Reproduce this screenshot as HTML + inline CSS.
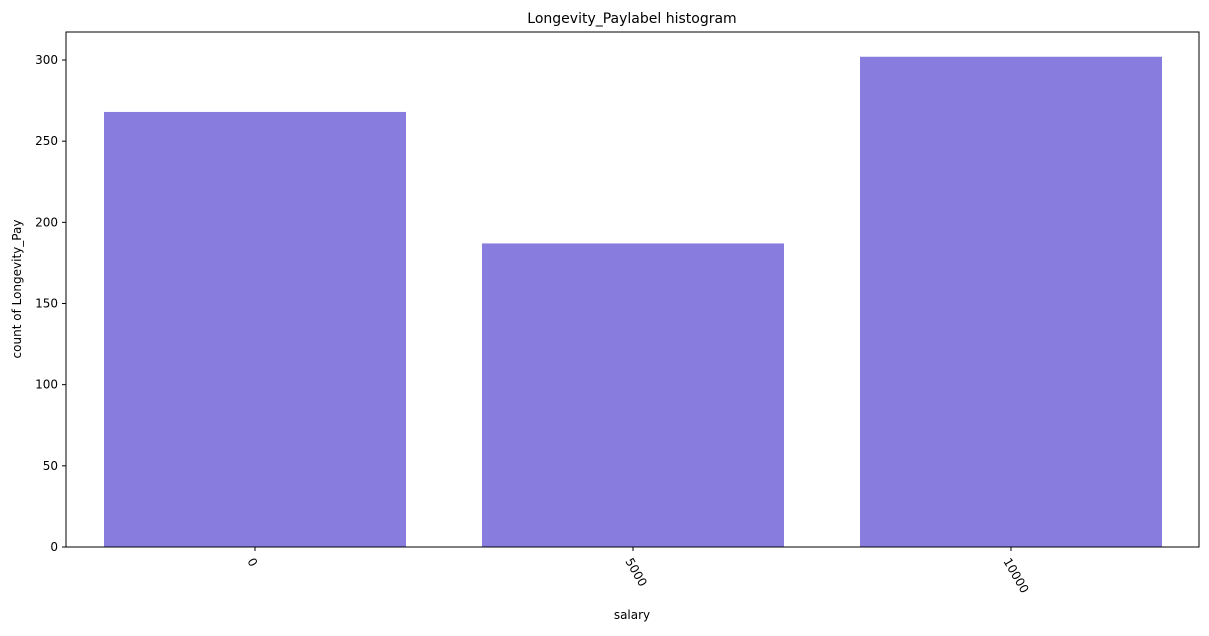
<!DOCTYPE html>
<html><head><meta charset="utf-8"><style>
body{margin:0;background:#fff;font-family:"Liberation Sans","DejaVu Sans",sans-serif;}
svg text{font-family:"DejaVu Sans","Liberation Sans",sans-serif;}
</style></head><body>
<svg id="chart" width="1209" height="631" xmlns="http://www.w3.org/2000/svg">
<rect width="1209" height="631" fill="#fff"/>
<text x="632" y="23" font-size="14" text-anchor="middle">Longevity_Paylabel histogram</text>
<g id="bars"></g>
<g id="yaxis"></g>
<g id="xaxis"></g>
<rect x="66" y="32" width="1133" height="515" fill="none" stroke="#000" stroke-width="1"/>
<text x="632" y="619" font-size="12" text-anchor="middle">salary</text>
<text transform="translate(21,289) rotate(-90)" font-size="12" text-anchor="middle">count of Longevity_Pay</text>
</svg>
<script>
const categories = ["0", "5000", "10000"];
const counts = [268, 187, 302];
const yTicks = [0, 50, 100, 150, 200, 250, 300];

const NS = "http://www.w3.org/2000/svg";
const x0 = 66, x1 = 1199, yTop = 32, yBot = 547;
const yScale = v => yBot - v * (487 / 300);
const step = 378, bw = 302, firstCenter = 255;
const xCenter = i => firstCenter + i * step;

const bars = document.getElementById('bars');
counts.forEach((c, i) => {
  const r = document.createElementNS(NS, 'rect');
  
  
  r.setAttribute('x', xCenter(i) - bw / 2);
  r.setAttribute('y', yScale(c));
  r.setAttribute('width', bw);
  r.setAttribute('height', yBot - yScale(c));
  r.setAttribute('fill', '#887cdf');
  bars.appendChild(r);
});

const ya = document.getElementById('yaxis');
yTicks.forEach(t => {
  const y = yScale(t);
  const l = document.createElementNS(NS, 'line');
  
  
  l.setAttribute('x1', x0 - 4); l.setAttribute('x2', x0);
  l.setAttribute('y1', y); l.setAttribute('y2', y);
  l.setAttribute('stroke', '#000');
  ya.appendChild(l);
  const tx = document.createElementNS(NS, 'text');
  
  
  tx.setAttribute('x', x0 - 8); tx.setAttribute('y', y + 4);
  tx.setAttribute('font-size', '12'); tx.setAttribute('text-anchor', 'end');
  tx.textContent = t;
  ya.appendChild(tx);
});

const xa = document.getElementById('xaxis');
categories.forEach((c, i) => {
  const x = xCenter(i);
  const l = document.createElementNS(NS, 'line');
  
  
  l.setAttribute('x1', x); l.setAttribute('x2', x);
  l.setAttribute('y1', yBot); l.setAttribute('y2', yBot + 4);
  l.setAttribute('stroke', '#000');
  xa.appendChild(l);
  const tx = document.createElementNS(NS, 'text');
  
  
  tx.setAttribute('transform', 'translate(' + (x - 8) + ',' + (yBot + 14) + ') rotate(60)');
  tx.setAttribute('font-size', '12');
  tx.textContent = c;
  xa.appendChild(tx);
});
</script>
</body></html>
